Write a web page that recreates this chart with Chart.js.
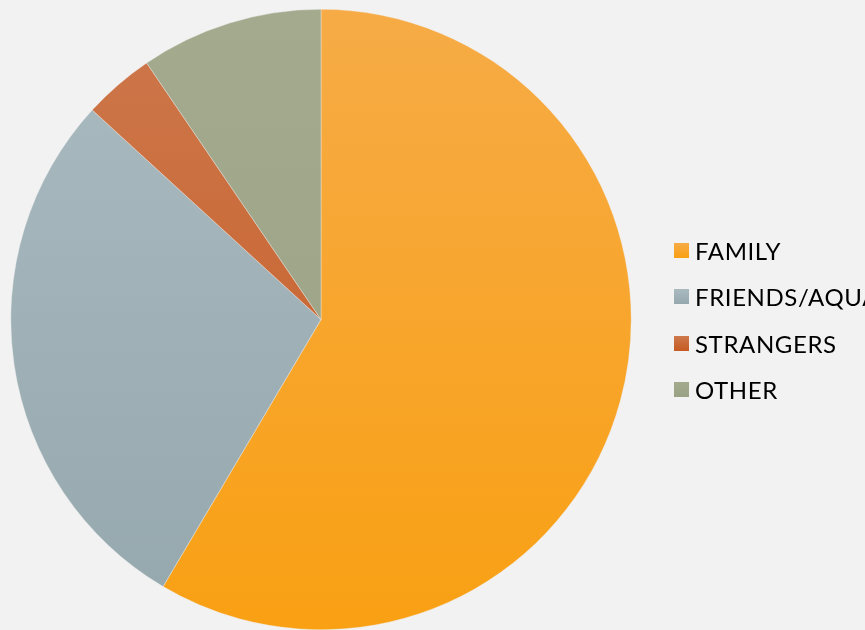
<!DOCTYPE html>
<html lang="en">
<head>
    <meta charset="UTF-8">
    <title>Pie chart</title>
    <script src="https://cdn.jsdelivr.net/npm/chart.js"></script>
    <style>
        html, body {
            margin: 0;
            padding: 0;
            background: #f2f2f2;
            overflow: hidden;
        }
        #wrap {
            position: relative;
            width: 865px;
            height: 630px;
            overflow: hidden;
        }
        /* Legend on the right */
        #legend {
            position: absolute;
            left: 674px;
            top: 227px;
            font-family: Lato, "Open Sans", sans-serif;
            font-size: 24px;
            letter-spacing: 0.6px;
            color: #000;
            white-space: nowrap;
        }
        .item {
            display: flex;
            align-items: center;
            height: 46.5px;
        }
        .box {
            width: 15px;
            height: 15px;
            margin-right: 6px;
        }
    </style>
</head>
<body>
    <div id="wrap">
        <canvas id="pieChart" width="865" height="630"></canvas>
        <div id="legend"></div>
    </div>

    <script>
        const categories = ['FAMILY', 'FRIENDS/AQUAINTANCES', 'STRANGERS', 'OTHER'];
        const shares = [58.5, 28.3, 3.7, 9.5];
        // top / bottom of each slice's vertical gradient
        const colorsTop = ['#f6ab46', '#aabbc0', '#cd784c', '#a3aa8e'];
        const colorsBottom = ['#f9a013', '#95a8ae', '#c65a22', '#9aa284'];

        function sliceFill(ctx) {
            const chart = ctx.chart;
            const area = chart.chartArea;
            if (!area) return colorsBottom[ctx.dataIndex];
            const g = chart.ctx.createLinearGradient(0, area.top, 0, area.bottom);
            g.addColorStop(0, colorsTop[ctx.dataIndex]);
            g.addColorStop(1, colorsBottom[ctx.dataIndex]);
            return g;
        }

        Chart.defaults.animation = false;

        const pieChart = new Chart(document.getElementById('pieChart'), {
            type: 'pie',
            data: {
                labels: categories,
                datasets: [{
                    data: shares,
                    backgroundColor: sliceFill,
                    borderColor: 'rgba(242,242,242,0.6)',
                    borderWidth: 0.6
                }]
            },
            options: {
                responsive: false,
                layout: {
                    padding: { left: 10, right: 233, top: 9, bottom: 0 }
                },
                plugins: {
                    legend: { display: false },
                    tooltip: { enabled: false }
                }
            }
        });

        // Legend
        const legend = document.getElementById('legend');
        categories.forEach(function (name, i) {
            const row = document.createElement('div');
            row.className = 'item';
            const box = document.createElement('span');
            box.className = 'box';
            box.style.background = 'linear-gradient(' + colorsTop[i] + ',' + colorsBottom[i] + ')';
            const label = document.createElement('span');
            label.textContent = name;
            row.appendChild(box);
            row.appendChild(label);
            legend.appendChild(row);
        });
    </script>
</body>
</html>
